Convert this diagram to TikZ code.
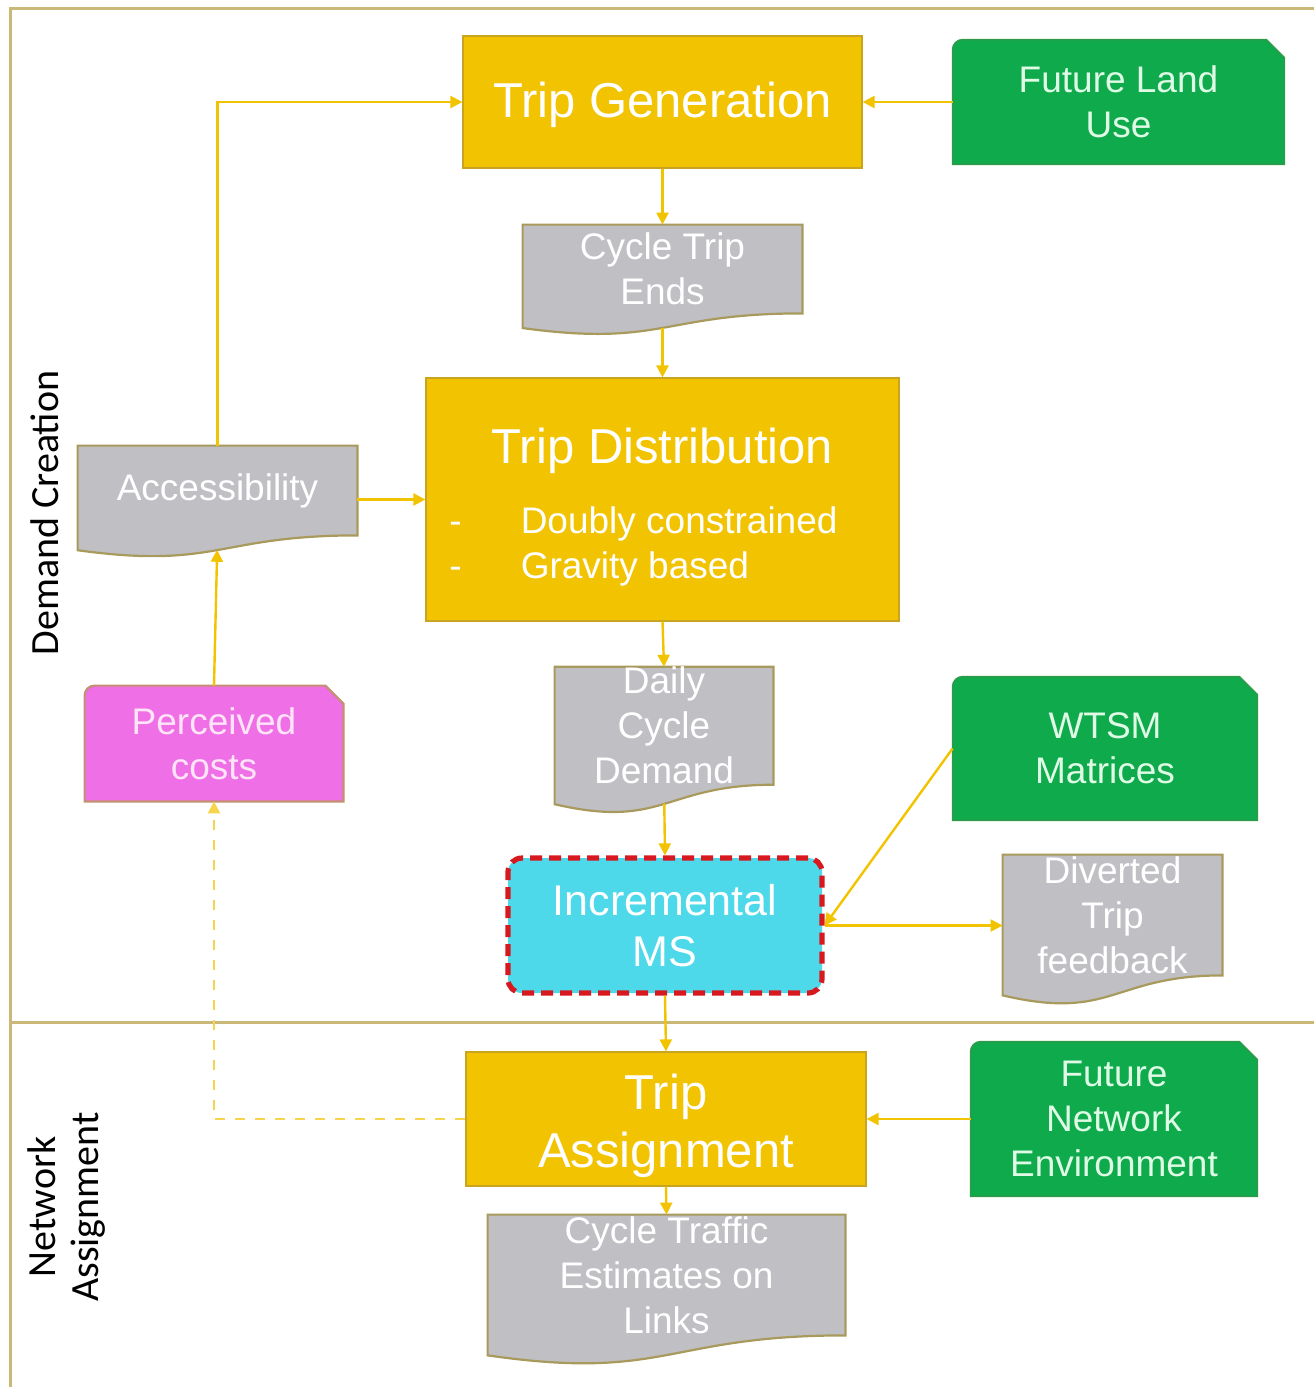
\documentclass[tikz,border=0pt]{standalone}
\usepackage{fontspec}
\setmainfont{Liberation Sans}
\newfontfamily\sidefont{Carlito}
\usetikzlibrary{arrows.meta, positioning, calc, backgrounds}
\definecolor{tripgold}{HTML}{F2C300}
\definecolor{goldline}{HTML}{C9A420}
\definecolor{docgrey}{HTML}{BFBFC4}
\definecolor{docedge}{HTML}{A89A5C}
\definecolor{inputgreen}{HTML}{0EAA4C}
\definecolor{greenedge}{HTML}{2E9A4A}
\definecolor{costpink}{HTML}{EE6FE6}
\definecolor{pinkedge}{HTML}{C58F73}
\definecolor{msaqua}{HTML}{4DD9EA}
\definecolor{msred}{HTML}{D7191F}
\definecolor{framekhaki}{HTML}{C9B878}
\definecolor{mintwhite}{HTML}{DFFBE6}
\definecolor{pinkwhite}{HTML}{FFE4F8}

% document shape with a wavy bottom, drawn round a named node
\newcommand{\docshape}[1]{%
  \draw[docfill] let \p1=(#1.north west), \p2=(#1.south east), \n1={\y1-\y2} in
    (\p1) -- (\x2,\y1) -- (\p2)
    .. controls ({0.5*\x1+0.5*\x2},\y2) and ({0.5*\x1+0.5*\x2},{\y2-0.38*\n1}) .. (\x1,{\y2-0.165*\n1}) -- cycle;}
% box with a round top left and a snipped top right corner
\newcommand{\snipshape}[2]{%
  \draw[#2] let \p1=(#1.north west), \p2=(#1.south east) in
    (\x1,\y2) -- (\x1,{\y1-5pt}) arc[start angle=180, end angle=90, radius=5pt]
    -- ({\x2-9pt},\y1) -- (\x2,{\y1-9pt}) -- (\p2) -- cycle;}

\tikzset{
  stagebox/.style={rectangle, fill=tripgold, draw=goldline, line width=0.6pt, text=white, align=center,
    font=\fontsize{24.5}{29}\selectfont, inner sep=0pt},
  docbox/.style={rectangle, text=white, align=center, font=\fontsize{18.5}{22.5}\selectfont, inner sep=0pt},
  docfill/.style={fill=docgrey, draw=docedge, line width=1.1pt},
  inputbox/.style={rectangle, text=mintwhite, align=center, font=\fontsize{18.5}{22.5}\selectfont, inner sep=0pt},
  inputfill/.style={fill=inputgreen, draw=greenedge, line width=0.8pt},
  costfill/.style={fill=costpink, draw=pinkedge, line width=1.1pt},
  msbox/.style={rectangle, rounded corners=7pt, fill=msaqua, draw=msred, line width=2.6pt,
    dash pattern=on 6pt off 3.5pt, text=white, align=center, font=\fontsize{21.5}{25.5}\selectfont, inner sep=0pt},
  sidelabel/.style={text=black, font=\sidefont\fontsize{20}{21.5}\selectfont, align=center, inner sep=0pt},
  frameline/.style={draw=framekhaki, line width=1.5pt},
  flow/.style={draw=tripgold, line width=1.2pt, -{Triangle[length=6pt,width=6pt]}},
  feedback/.style={flow, draw=tripgold!70, dash pattern=on 5pt off 5pt},
}

\begin{document}
\begin{tikzpicture}[x=0.5pt, y=-0.5pt]
\useasboundingbox (0,0) rectangle (1314,1387);

% demand creation
\node[stagebox, minimum width=199.5pt, minimum height=66pt] (gen) at (662.5,102) {\rule{0pt}{21pt}Trip Generation};
\node[inputbox, minimum width=165.5pt, minimum height=62pt] (landuse) at (1118.5,102) {Future Land\\Use};
\node[docbox, minimum width=139.5pt, minimum height=44pt] (ends) at (662.5,269) {Cycle Trip\\Ends};
\node[stagebox, minimum width=236.5pt, minimum height=121.5pt] (dist) at (662.5,499.5)
  {\rule{0pt}{28pt}Trip Distribution\\[6pt]{\fontsize{18.5}{22.5}\selectfont
   \begin{tabular}[t]{@{}l@{\hspace{29.5pt}}l@{\hspace{19pt}}}- & Doubly constrained\\ - & Gravity based\end{tabular}}};
\node[docbox, minimum width=139.5pt, minimum height=44.5pt] (access) at (217.5,490.5) {Accessibility};
\node[inputbox, text=pinkwhite, minimum width=129pt, minimum height=57.5pt] (perceived) at (214,743.5) {Perceived\\costs};
\node[docbox, minimum width=109pt, minimum height=57.75pt] (daily) at (664,725.75) {Daily\\Cycle\\Demand};
\node[inputbox, minimum width=152pt, minimum height=71.5pt] (wtsm) at (1105,748.5) {WTSM\\Matrices};
\node[msbox, minimum width=157pt, minimum height=67.5pt] (incms) at (665,925.5) {Incremental\\MS};
\node[docbox, minimum width=109.5pt, minimum height=60pt] (diverted) at (1112.5,915) {Diverted\\Trip\\feedback};

% network assignment
\node[stagebox, minimum width=200pt, minimum height=67pt] (assign) at (666,1119) {\rule{0pt}{24.5pt}Trip\\Assignment};
\node[inputbox, minimum width=143pt, minimum height=77pt] (netenv) at (1114,1119) {Future\\Network\\Environment};
\node[docbox, minimum width=178.5pt, minimum height=60pt] (traffic) at (666.5,1275) {Cycle Traffic\\Estimates on\\Links};

\node[sidelabel, rotate=90] (demandlbl) at (45,513) {Demand Creation};
\node[sidelabel, rotate=90] (networklbl) at (67,1207) {Network\\Assignment};

\begin{scope}[on background layer]
  \draw[frameline] (1314,8) -- (10,8) -- (10,1387);
  \draw[frameline] (10,1022) -- (1314,1022);
  \docshape{ends}
  \docshape{access}
  \docshape{daily}
  \docshape{diverted}
  \docshape{traffic}
  \snipshape{landuse}{inputfill}
  \snipshape{wtsm}{inputfill}
  \snipshape{netenv}{inputfill}
  \snipshape{perceived}{costfill}
\end{scope}

\draw[flow] (landuse.west) -- (gen.east);
\draw[flow] (gen.south) -- (ends.north);
\draw[flow, shorten <=7.2pt] (ends.south) -- (dist.north);
\draw[flow] (access.north) |- (gen.west);
\draw[flow] (access.east |- dist.west) -- (dist.west);
\draw[flow, shorten >=7.2pt] (perceived.north) -- (access.south);
\draw[flow] (dist.south) -- (daily.north);
\draw[flow, shorten <=9.4pt] (daily.south) -- (incms.north);
\draw[flow] (wtsm.west) -- (incms.east);
\draw[flow] (incms.east) -- (incms.east -| diverted.west);
\draw[flow] (incms.south) -- (assign.north);
\draw[flow] (netenv.west) -- (assign.east);
\draw[feedback] (assign.west) -| (perceived.south);
\draw[flow] (assign.south) -- (traffic.north);
\end{tikzpicture}
\end{document}
